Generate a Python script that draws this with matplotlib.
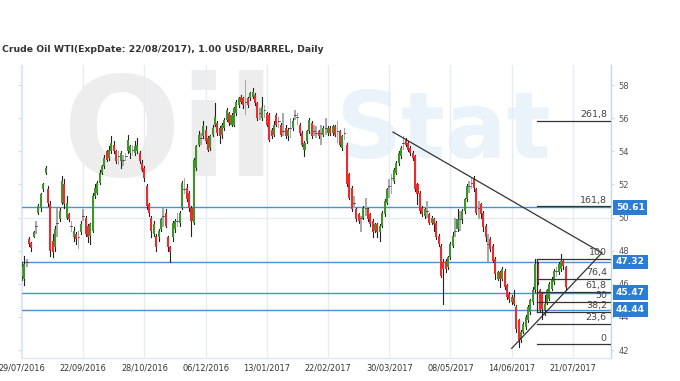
import matplotlib
matplotlib.use("Agg")
import matplotlib.pyplot as plt
from matplotlib.patches import Rectangle

# ---------------- data ----------------
opens = [46.5, 46.3, 47.2, 48.7, 48.45, 48.85, 49.4, 50.3, 50.6, 51.7,
         52.7, 51.7, 50.8, 48.6, 48.2, 49.6, 49.9, 50.9, 52.0, 50.0,
         50.2, 49.4, 48.8, 49.0, 48.7, 49.1, 50.0, 50.0, 49.5, 48.9,
         49.2, 51.3, 51.5, 52.1, 52.7, 53.1, 54.0, 53.6, 54.0, 54.4,
         54.0, 53.6, 53.4, 53.4, 53.6, 54.0, 53.9, 54.0, 53.9, 54.0,
         53.9, 53.3, 53.0, 51.9, 50.8, 50.0, 49.0, 48.9, 48.8, 49.3,
         50.0, 50.3, 48.8, 48.2, 48.8, 49.3, 49.7, 49.7, 50.6, 51.8,
         51.8, 51.5, 50.6, 49.7, 53.0, 54.4, 54.7, 54.9, 55.3, 54.8,
         54.2, 55.0, 55.6, 55.7, 55.4, 55.0, 55.4, 55.9, 56.3, 55.6,
         55.6, 56.3, 56.8, 57.3, 57.2, 56.9, 57.2, 57.2, 57.3, 57.4,
         56.9, 56.2, 56.0, 56.4, 56.3, 56.2, 55.3, 55.0, 56.2, 55.7,
         55.6, 55.3, 55.4, 54.9, 55.3, 55.4, 56.2, 56.0, 55.6, 55.1,
         54.1, 54.6, 55.2, 55.7, 55.1, 55.2, 55.2, 55.0, 55.0, 55.3,
         55.1, 55.4, 55.1, 55.5, 55.1, 55.2, 54.2, 55.0, 54.4, 52.6,
         51.8, 50.8, 50.5, 50.2, 49.9, 50.0, 50.5, 50.5, 50.2, 49.8,
         49.2, 49.6, 49.1, 49.5, 50.2, 50.9, 51.8, 52.4, 52.2, 52.7,
         53.3, 53.7, 54.4, 54.7, 54.5, 54.2, 53.9, 53.7, 52.0, 51.5,
         50.6, 50.1, 50.3, 50.2, 49.7, 49.9, 49.7, 48.9, 48.3, 47.3,
         47.4, 47.0, 47.6, 48.3, 49.1, 49.3, 49.8, 49.9, 50.4, 51.1,
         51.8, 52.0, 52.3, 51.7, 50.5, 50.8, 50.3, 49.5, 48.5, 48.7,
         48.3, 47.5, 46.3, 46.7, 46.3, 46.8, 45.9, 45.4, 44.9, 45.2,
         44.6, 43.8, 42.6, 43.1, 43.4, 43.8, 44.3, 44.9, 45.6, 47.2,
         45.6, 45.4, 44.4, 44.9, 45.1, 45.7, 46.1, 46.7, 46.7, 46.9,
         47.4, 47.0]
highs = [47.3, 47.7, 47.5, 48.8, 48.5, 49.2, 49.8, 50.8, 51.5, 52.1,
         53.1, 51.9, 51.0, 49.0, 49.5, 50.6, 50.6, 52.5, 52.3, 51.3,
         50.3, 49.8, 49.4, 49.1, 49.2, 49.8, 50.5, 50.1, 49.6, 49.7,
         51.5, 52.0, 52.2, 52.9, 53.2, 53.8, 54.1, 54.3, 54.9, 54.6,
         54.1, 54.0, 54.0, 53.8, 53.9, 55.0, 54.4, 54.4, 54.6, 54.8,
         54.0, 53.5, 53.1, 52.0, 50.9, 50.1, 49.8, 49.0, 49.3, 50.0,
         50.6, 50.5, 48.9, 48.3, 49.8, 49.9, 50.3, 50.4, 52.2, 52.4,
         52.0, 51.6, 50.7, 53.6, 54.4, 55.2, 55.1, 55.8, 55.5, 54.9,
         55.0, 55.6, 56.9, 55.8, 55.5, 55.7, 56.0, 56.6, 56.4, 56.3,
         56.7, 57.1, 57.3, 57.4, 57.3, 58.3, 57.3, 57.6, 57.8, 57.5,
         57.0, 56.6, 57.3, 56.8, 56.4, 56.3, 55.4, 55.8, 56.3, 56.1,
         55.7, 56.3, 55.6, 55.4, 56.0, 56.0, 56.5, 56.3, 55.7, 55.2,
         54.6, 55.3, 56.0, 55.8, 55.6, 55.5, 55.3, 55.6, 55.5, 56.0,
         55.5, 55.5, 55.6, 55.6, 55.8, 55.3, 55.0, 55.4, 54.5, 52.7,
         51.9, 51.3, 50.6, 50.3, 50.1, 50.7, 51.2, 50.6, 50.3, 49.9,
         49.7, 49.7, 49.6, 50.4, 51.1, 51.8, 52.3, 52.6, 53.0, 53.4,
         54.0, 54.3, 54.9, 54.8, 54.6, 54.3, 54.0, 53.8, 52.1, 51.6,
         50.7, 50.6, 51.0, 50.3, 50.1, 50.0, 49.8, 49.0, 48.4, 47.5,
         47.5, 47.7, 48.5, 49.1, 50.0, 50.5, 50.4, 50.5, 51.2, 52.0,
         52.2, 52.4, 52.5, 51.8, 51.0, 50.9, 50.4, 49.6, 49.0, 48.8,
         48.4, 47.6, 46.8, 46.8, 47.0, 46.9, 46.0, 45.5, 45.3, 45.6,
         44.7, 43.9, 43.2, 43.7, 44.1, 44.7, 45.1, 45.8, 47.5, 47.3,
         45.7, 45.5, 45.3, 45.7, 46.1, 46.4, 46.9, 47.0, 47.3, 47.8,
         47.5, 47.1]
lows = [46.2, 45.9, 47.0, 48.3, 48.0, 48.8, 49.0, 50.2, 50.4, 51.6,
        52.6, 50.7, 47.7, 47.6, 48.0, 48.8, 49.8, 50.8, 50.6, 49.9,
        49.8, 49.1, 48.6, 48.4, 48.1, 49.0, 49.8, 48.9, 48.5, 48.4,
        49.1, 51.2, 51.4, 52.0, 52.6, 53.0, 53.4, 53.5, 53.9, 53.9,
        53.3, 53.2, 53.0, 53.1, 53.4, 53.9, 53.6, 53.7, 53.8, 53.9,
        53.3, 52.8, 52.2, 50.5, 50.1, 48.8, 48.9, 48.0, 48.6, 49.2,
        49.4, 49.4, 48.0, 47.3, 48.6, 49.1, 49.4, 49.5, 50.5, 51.4,
        51.0, 50.4, 48.9, 49.6, 52.9, 54.3, 54.4, 54.8, 54.5, 54.0,
        54.1, 54.9, 55.5, 55.0, 54.5, 54.8, 55.3, 55.8, 55.6, 55.5,
        55.5, 56.2, 56.7, 56.9, 56.6, 56.2, 56.7, 57.1, 57.2, 56.8,
        55.9, 55.9, 55.9, 56.0, 55.5, 54.6, 54.8, 54.9, 55.5, 55.4,
        54.9, 54.9, 54.8, 54.7, 54.8, 55.3, 55.9, 55.6, 55.0, 54.3,
        53.7, 54.5, 55.1, 54.8, 54.9, 54.8, 54.8, 54.4, 54.9, 55.0,
        55.0, 55.0, 55.0, 54.9, 54.5, 54.3, 54.1, 54.7, 51.9, 51.1,
        50.4, 50.6, 49.8, 49.7, 49.1, 49.9, 50.1, 49.8, 49.5, 48.8,
        49.1, 48.8, 48.6, 49.4, 50.1, 50.8, 51.2, 51.4, 52.1, 52.6,
        53.2, 53.6, 54.1, 54.3, 54.0, 53.8, 53.5, 51.6, 50.8, 50.3,
        50.1, 50.0, 50.0, 49.6, 49.6, 49.2, 48.7, 48.3, 46.4, 44.8,
        46.7, 46.9, 47.5, 48.2, 48.8, 49.2, 49.2, 49.7, 50.3, 51.0,
        51.5, 51.7, 51.6, 50.2, 49.9, 50.0, 49.2, 48.6, 47.3, 48.0,
        47.3, 46.3, 46.2, 45.8, 46.2, 45.7, 45.1, 44.9, 44.8, 44.7,
        43.1, 42.2, 42.5, 43.0, 43.3, 43.7, 44.2, 44.8, 45.5, 46.0,
        44.3, 43.9, 44.1, 44.8, 45.0, 45.6, 46.0, 46.4, 46.6, 46.8,
        46.9, 45.6]
closes = [47.0, 47.2, 47.3, 48.4, 48.15, 49.15, 49.5, 50.7, 51.4, 52.0,
          53.0, 50.9, 48.0, 47.9, 49.3, 49.7, 50.4, 52.2, 50.8, 50.9,
          49.9, 49.5, 49.2, 48.7, 48.8, 49.6, 50.1, 49.0, 48.8, 49.6,
          51.3, 51.8, 52.1, 52.7, 53.1, 53.6, 53.5, 54.1, 54.5, 54.0,
          53.4, 53.7, 53.9, 53.5, 53.7, 54.7, 54.3, 54.1, 54.3, 54.4,
          53.4, 52.9, 52.4, 50.7, 50.3, 49.2, 49.6, 48.2, 49.2, 49.9,
          50.1, 49.5, 48.2, 47.9, 49.7, 49.8, 49.8, 50.3, 52.1, 51.7,
          51.1, 50.6, 49.8, 53.5, 54.3, 55.0, 54.8, 55.5, 54.6, 54.1,
          54.9, 55.4, 56.1, 55.1, 54.9, 55.6, 55.9, 56.5, 55.7, 56.2,
          56.6, 57.0, 57.2, 57.0, 56.8, 57.0, 56.8, 57.5, 57.6, 56.9,
          56.0, 56.3, 56.7, 56.5, 55.6, 54.7, 54.9, 55.6, 55.6, 55.8,
          55.0, 55.2, 54.9, 55.3, 55.4, 55.8, 56.2, 56.1, 55.1, 54.4,
          54.5, 55.2, 55.9, 54.9, 55.2, 55.1, 54.9, 55.1, 55.4, 55.4,
          55.4, 55.1, 55.5, 55.0, 55.2, 54.4, 54.9, 55.1, 52.0, 51.2,
          50.5, 50.9, 49.9, 49.8, 50.0, 50.6, 50.6, 49.9, 49.6, 49.1,
          49.6, 49.1, 49.5, 50.3, 51.0, 51.7, 51.9, 52.4, 52.9, 53.3,
          53.9, 54.2, 54.5, 54.4, 54.1, 53.9, 53.6, 51.7, 51.4, 50.4,
          50.2, 50.5, 50.4, 49.7, 50.0, 49.6, 48.8, 48.4, 46.5, 46.9,
          46.9, 47.6, 48.4, 48.9, 49.2, 49.9, 49.9, 50.4, 51.1, 51.9,
          51.9, 52.1, 51.8, 50.3, 50.6, 50.2, 49.4, 48.8, 48.4, 48.1,
          47.4, 46.6, 46.7, 46.3, 46.9, 45.8, 45.2, 45.1, 45.2, 44.8,
          43.3, 42.6, 43.1, 43.6, 44.0, 44.6, 45.0, 45.6, 47.2, 46.1,
          44.4, 44.5, 44.8, 45.6, 46.0, 46.3, 46.8, 46.8, 47.2, 47.4,
          47.1, 45.8]

date_labels = ["29/07/2016", "22/09/2016", "28/10/2016", "06/12/2016", "13/01/2017",
               "22/02/2017", "30/03/2017", "08/05/2017", "14/06/2017", "21/07/2017"]
date_label_bars = [0, 26, 52, 78, 104, 130, 156, 182, 208, 234]
price_ticks = [42, 44, 46, 48, 50, 52, 54, 56, 58]

marker_levels = [50.61, 47.32, 45.47, 44.44]

fib_low = 42.35
fib_high = 47.50
fib_start_bar = 218.8
fib_ratios = [0.0, 23.6, 38.2, 50.0, 61.8, 76.4, 100.0, 161.8, 261.8]
fib_texts = ["0", "23,6", "38,2", "50", "61,8", "76,4", "100", "161,8", "261,8"]

trend_down_bars = [157.6, 246.4]
trend_down_prices = [55.16, 47.86]
trend_up_bars = [208.0, 246.3]
trend_up_prices = [42.10, 47.86]

title = "Crude Oil WTI(ExpDate: 22/08/2017), 1.00 USD/BARREL, Daily"

# ---------------- figure ----------------
W, H = 680, 381
fig = plt.figure(figsize=(W / 100, H / 100), dpi=100)
fig.patch.set_facecolor("white")
ax = fig.add_axes([21 / W, 23 / H, 590 / W, 293 / H])
ax.set_facecolor("white")
ax.set_xlim(-0.42, 250.2)
ax.set_ylim(41.52, 59.21)

# watermark (behind everything in the axes)
ax.text(62 / W, 1 - 138 / H, "Oil", transform=fig.transFigure, fontsize=100,
        weight="bold", color="#ededed", ha="left", va="center", zorder=0.1)
ax.text(335 / W, 1 - 132 / H, "Stat", transform=fig.transFigure, fontsize=66,
        weight="bold", color="#eaf2fa", ha="left", va="center", zorder=0.1)

# grid
for b in date_label_bars:
    ax.axvline(b, color="#e4edf6", lw=1.0, zorder=0.5)
ax.axhline(50, color="#e4edf6", lw=1.0, zorder=0.5)

# horizontal marker lines
for lv in marker_levels:
    ax.axhline(lv, color="#4a90d9", lw=1.0, zorder=1)

# candles
GREEN, RED, GRAY = "#3e9428", "#ee2a2a", "#a8a8a8"
bw = 0.86
for i, (o, h, l, c) in enumerate(zip(opens, highs, lows, closes)):
    body = abs(c - o)
    if body < 0.25:
        ax.add_patch(Rectangle((i - 0.36, l), 0.72, h - l, facecolor=GRAY, lw=0, zorder=2))
        ax.plot([i - 0.4, i + 0.4], [c, c], color="#444444", lw=0.6, zorder=2.1)
    else:
        ax.plot([i, i], [l, h], color="#222222", lw=0.8, zorder=2)
        ax.add_patch(Rectangle((i - bw / 2, min(o, c)), bw, body,
                               facecolor=GREEN if c > o else RED, lw=0, zorder=2.2))

# trend lines
ax.plot(trend_down_bars, trend_down_prices, color="#333333", lw=0.9, zorder=3)
ax.plot(trend_up_bars, trend_up_prices, color="#333333", lw=0.9, zorder=3)

# fibonacci
rng = fib_high - fib_low
xr = ax.get_xlim()[1]
for r, t in zip(fib_ratios, fib_texts):
    p = fib_low + rng * r / 100.0
    ax.plot([fib_start_bar, xr], [p, p], color="#333333", lw=0.9, zorder=3)
    ax.annotate(t, xy=(0.993, p), xycoords=("axes fraction", "data"),
                xytext=(0, 1.2), textcoords="offset points",
                ha="right", va="bottom", fontsize=6.8, color="#444444", zorder=4)
ax.plot([fib_start_bar, fib_start_bar], [fib_low + rng * 0.382, fib_high],
        color="#333333", lw=0.9, zorder=3)

# axes styling
ax.spines["top"].set_visible(False)
ax.spines["left"].set_color("#dde7f1")
ax.spines["bottom"].set_color("#dde7f1")
ax.spines["right"].set_color("#c5d7ea")
for s in ["left", "bottom", "right"]:
    ax.spines[s].set_linewidth(1.0)

ax.set_xticks(date_label_bars)
ax.set_xticklabels(date_labels)
ax.tick_params(axis="x", length=0, pad=4, labelsize=5.9, labelcolor="#333333")
ax.set_yticks(price_ticks)
ax.set_yticklabels([str(v) for v in price_ticks])
ax.tick_params(axis="y", left=True, right=True, labelleft=False, labelright=True,
               length=2.5, color="#cfd9e3", pad=3, labelsize=6, labelcolor="#555555")

# right-side price boxes
for lv in marker_levels:
    ax.annotate(f"{lv:.2f}", xy=(1.0, lv), xycoords=("axes fraction", "data"),
                xytext=(3.5, 0), textcoords="offset points", ha="left", va="center",
                fontsize=6.6, weight="bold", color="white", zorder=10,
                annotation_clip=False,
                bbox=dict(boxstyle="square,pad=0.3", facecolor="#2a7dd2", edgecolor="none"))

# title (scaled to the reference width)
tt = fig.text(2 / W, 1 - 50 / H, title, fontsize=7.5, weight="bold", color="#333333",
              ha="left", va="center")
fig.canvas.draw()
wpx = tt.get_window_extent(fig.canvas.get_renderer()).width
tt.set_fontsize(7.5 * 321 / wpx)

fig.savefig("out.png", dpi=100, facecolor="white")
